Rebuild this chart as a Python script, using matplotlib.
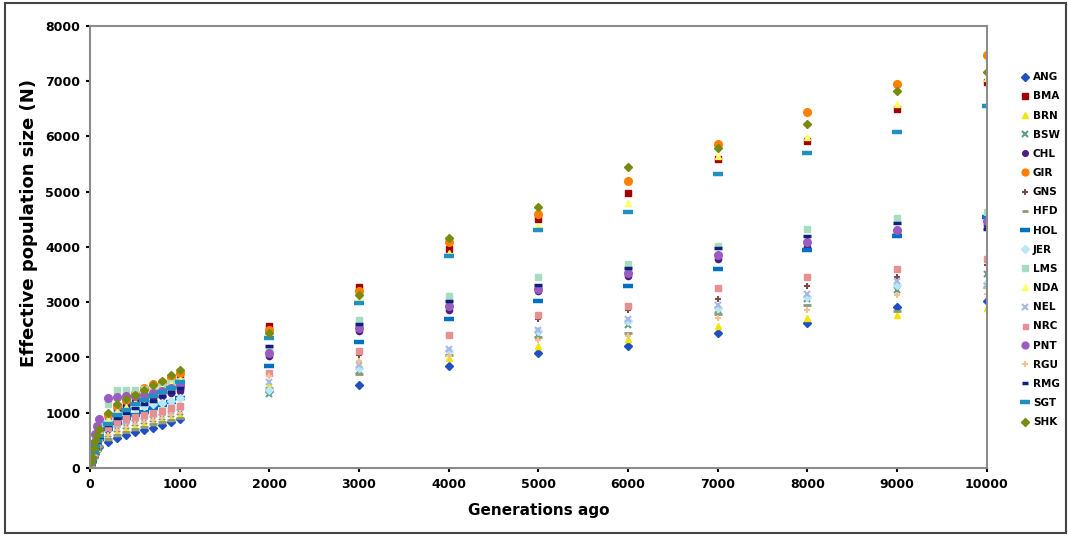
import numpy as np
import matplotlib
matplotlib.use('Agg')
import matplotlib.pyplot as plt
from matplotlib.patches import Rectangle

# generations ago (x values)
gens = [10, 20, 40, 60, 80, 100,
        200, 300, 400, 500, 600, 700, 800, 900, 1000,
        2000, 3000, 4000, 5000, 6000, 7000, 8000, 9000, 10000]

breeds = ['ANG', 'BMA', 'BRN', 'BSW', 'CHL', 'GIR', 'GNS', 'HFD', 'HOL', 'JER',
          'LMS', 'NDA', 'NEL', 'NRC', 'PNT', 'RGU', 'RMG', 'SGT', 'SHK']

# effective population size per breed
ANG = [60, 105, 195, 260, 325, 380, 470, 550, 600, 650, 690, 730, 780, 830, 880,
       1400, 1506, 1838, 2082, 2201, 2445, 2626, 2910, 3018]
BMA = [100, 175, 325, 440, 545, 640, 900, 1050, 1150, 1250, 1350, 1420, 1480, 1560, 1640,
       2565, 3270, 3956, 4501, 4973, 5590, 5922, 6497, 6993]
BRN = [65, 115, 220, 295, 365, 430, 560, 640, 700, 750, 790, 830, 870, 910, 950,
       1500, 1880, 1991, 2201, 2330, 2565, 2717, 2777, 2898]
BSW = [70, 125, 235, 315, 390, 460, 620, 700, 760, 810, 850, 890, 930, 970, 1010,
       1340, 1748, 2080, 2414, 2595, 2860, 3060, 3230, 3503]
CHL = [100, 175, 330, 445, 555, 650, 980, 1080, 1130, 1180, 1220, 1260, 1300, 1350, 1400,
       2020, 2474, 2867, 3200, 3472, 3775, 4000, 4250, 4400]
GIR = [105, 185, 345, 465, 580, 680, 950, 1120, 1230, 1350, 1450, 1520, 1560, 1640, 1720,
       2505, 3200, 4089, 4592, 5196, 5870, 6437, 6951, 7477]
GNS = [75, 130, 245, 330, 410, 480, 650, 740, 800, 850, 890, 930, 970, 1010, 1060,
       1690, 2050, 2383, 2704, 2867, 3067, 3290, 3450, 3672]
HFD = [60, 110, 205, 275, 340, 400, 520, 600, 660, 710, 750, 790, 830, 870, 910,
       1450, 1700, 2040, 2370, 2450, 2780, 2950, 2850, 3267]
HOL = [80, 140, 265, 355, 445, 520, 700, 820, 900, 960, 1020, 1080, 1140, 1200, 1260,
       1840, 2274, 2698, 3031, 3290, 3593, 3944, 4198, 4550]
JER = [95, 170, 315, 425, 530, 620, 850, 1000, 1050, 1090, 1120, 1150, 1180, 1220, 1260,
       1415, 1809, 2111, 2474, 2655, 2898, 3091, 3321, 3352]
LMS = [120, 210, 390, 530, 650, 760, 1150, 1420, 1420, 1420, 1430, 1440, 1480, 1530, 1580,
       2150, 2686, 3109, 3461, 3684, 4017, 4332, 4531, 4640]
NDA = [90, 160, 305, 410, 510, 600, 850, 1000, 1100, 1200, 1300, 1380, 1450, 1520, 1600,
       2400, 3050, 3900, 4380, 4804, 5650, 5983, 6588, 7050]
NEL = [75, 135, 255, 340, 425, 500, 700, 780, 840, 880, 920, 960, 1000, 1040, 1080,
       1565, 1860, 2150, 2500, 2700, 2950, 3150, 3380, 3300]
NRC = [85, 145, 275, 370, 460, 540, 750, 830, 880, 920, 960, 1000, 1040, 1080, 1120,
       1720, 2111, 2414, 2777, 2940, 3261, 3461, 3593, 3775]
PNT = [140, 250, 450, 610, 760, 880, 1260, 1280, 1300, 1310, 1320, 1360, 1400, 1450, 1500,
       2085, 2535, 2927, 3243, 3533, 3848, 4089, 4307, 4470]
RGU = [70, 120, 230, 305, 385, 450, 600, 680, 740, 790, 830, 870, 910, 950, 990,
       1660, 1929, 2020, 2323, 2383, 2717, 2867, 3140, 3150]
RMG = [85, 150, 285, 380, 475, 560, 780, 900, 1000, 1080, 1150, 1220, 1300, 1380, 1450,
       2200, 2613, 3018, 3303, 3624, 3975, 4198, 4428, 4332]
SGT = [90, 155, 295, 395, 495, 580, 800, 950, 1050, 1150, 1230, 1300, 1380, 1450, 1550,
       2355, 2990, 3835, 4307, 4634, 5318, 5693, 6085, 6557]
SHK = [110, 190, 360, 480, 600, 700, 1000, 1150, 1250, 1330, 1420, 1500, 1580, 1680, 1770,
       2450, 3140, 4168, 4731, 5439, 5800, 6225, 6830, 7163]

values = [ANG, BMA, BRN, BSW, CHL, GIR, GNS, HFD, HOL, JER,
          LMS, NDA, NEL, NRC, PNT, RGU, RMG, SGT, SHK]

# marker styles (marker, colour, size, edge width)
styles = {
    'ANG': ('D', '#1f4fc0', 4, 1),
    'BMA': ('s', '#a00000', 5, 1),
    'BRN': ('^', '#f2e600', 5, 1),
    'BSW': ('x', '#5f9f80', 4.5, 1.5),
    'CHL': ('o', '#4b1f7f', 4.5, 1),
    'GIR': ('o', '#ff8000', 5.5, 1),
    'GNS': ('+', '#7a4a4a', 5, 1.5),
    'HFD': ('_', '#8a9a7a', 5.5, 2),
    'HOL': ('_', '#0070c0', 7.5, 3.2),
    'JER': ('D', '#b8e8f8', 4, 1),
    'LMS': ('s', '#a8dcc0', 5, 1),
    'NDA': ('^', '#ffff66', 5, 1),
    'NEL': ('x', '#a8b8e8', 4.5, 1.5),
    'NRC': ('s', '#e89090', 4, 1),
    'PNT': ('o', '#9a5cc0', 5.5, 1),
    'RGU': ('+', '#f8c090', 5, 1.5),
    'RMG': ('_', '#10207f', 5.5, 2.5),
    'SGT': ('_', '#2090c0', 7.5, 3.2),
    'SHK': ('D', '#7a8a10', 4.5, 1),
}

plt.rcParams['font.family'] = ['DejaVu Sans']

fig = plt.figure(figsize=(10.68, 5.36), dpi=100)
ax = fig.add_axes([0.0843, 0.1269, 0.8397, 0.8246])

for name, vals in zip(breeds, values):
    m, c, ms, mew = styles[name]
    ax.plot(gens, vals, linestyle='none', marker=m, color=c, markersize=ms,
            markeredgewidth=mew, markeredgecolor=c, label=name)

ax.set_xlim(0, 10000)
ax.set_ylim(0, 8000)
ax.set_xticks(range(0, 10001, 1000))
ax.set_yticks(range(0, 8001, 1000))
for lab in ax.get_xticklabels() + ax.get_yticklabels():
    lab.set_fontweight('bold')
ax.tick_params(labelsize=9, length=3, width=1.5, color='black', pad=4)
for sp in ax.spines.values():
    sp.set_color('#8c8c8c')
    sp.set_linewidth(1.5)

ax.set_xlabel('Generations ago', fontsize=11, fontweight='bold', labelpad=9)
ax.set_ylabel('Effective population size (N)', fontsize=13, fontweight='bold')
ax.yaxis.set_label_coords(-0.058, 0.554)

leg = ax.legend(loc='upper left', bbox_to_anchor=(0.953, 0.873), bbox_transform=fig.transFigure,
                frameon=False, fontsize=7.5, handlelength=0.6, handletextpad=0.45,
                labelspacing=0.88, borderaxespad=0, markerscale=0.9)
for t in leg.get_texts():
    t.set_fontweight('bold')

# outer frame around the whole picture
fig.patches.append(Rectangle((5 / 1068, 3 / 536), 1061 / 1068, 530 / 536,
                             transform=fig.transFigure, fill=False,
                             edgecolor='#444444', linewidth=1.5))

fig.savefig('out.png', dpi=100)
